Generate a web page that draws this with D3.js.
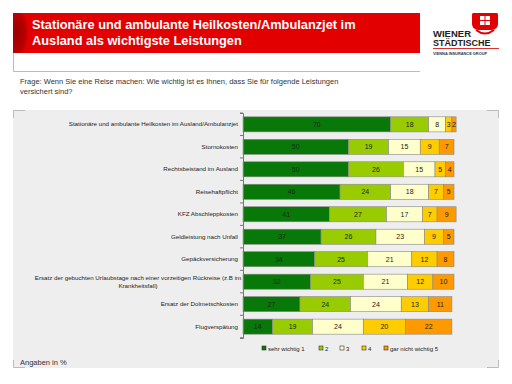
<!DOCTYPE html>
<html>
<head>
<meta charset="utf-8">
<script src="https://cdn.jsdelivr.net/npm/d3@7"></script>
<style>
  body { margin: 0; background: #fff; }
  text { font-family: Arial, "Liberation Sans", sans-serif; }
</style>
</head>
<body>
<div id="chart"></div>
<script>
var categories = [
    ["Stationäre und ambulante Heilkosten im Ausland/Ambulanzjet"],
    ["Stornokosten"],
    ["Rechtsbeistand im Ausland"],
    ["Reisehaftpflicht"],
    ["KFZ Abschleppkosten"],
    ["Geldleistung nach Unfall"],
    ["Gepäckversicherung"],
    ["Ersatz der gebuchten Urlaubstage nach einer vorzeitigen Rückreise (z.B im", "Krankheitsfall)"],
    ["Ersatz der Dolmetschkosten"],
    ["Flugverspätung"]
];
var seriesNames = ["sehr wichtig 1", "2", "3", "4", "gar nicht wichtig 5"];
var s1 = [70, 50, 50, 46, 41, 37, 34, 32, 27, 14];
var s2 = [18, 19, 26, 24, 27, 26, 25, 25, 24, 19];
var s3 = [8, 15, 15, 18, 17, 23, 21, 21, 24, 24];
var s4 = [3, 9, 5, 7, 7, 9, 12, 12, 13, 20];
var s5 = [2, 7, 4, 5, 9, 5, 8, 10, 11, 22];
var colors = ["#087808", "#99cc00", "#ffffcc", "#ffcc00", "#ff9900"];

var width = 512, height = 384;

var svg = d3.select("#chart")
    .append("svg")
    .attr("width", width)
    .attr("height", height);

// header banner
var defs = svg.append("defs");
var grad = defs.append("radialGradient")
    .attr("id", "edge").attr("cx", "0.4").attr("cy", "0.5").attr("r", "0.6");
grad.append("stop").attr("offset", "0%").attr("stop-color", "#9a0000");
grad.append("stop").attr("offset", "70%").attr("stop-color", "#b80000");
grad.append("stop").attr("offset", "100%").attr("stop-color", "#e30000");
defs.append("clipPath").attr("id", "banner")
    .append("rect").attr("x", 13).attr("y", 13).attr("width", 407).attr("height", 40);

var banner = svg.append("g").attr("clip-path", "url(#banner)");
banner.append("rect").attr("x", 13).attr("y", 13).attr("width", 407).attr("height", 40).attr("fill", "#e30000");
banner.append("ellipse").attr("cx", 18).attr("cy", 33).attr("rx", 11).attr("ry", 22).attr("fill", "url(#edge)");
svg.append("path").attr("d", "M13.5,53 V71.5 H420").attr("fill", "none").attr("stroke", "#bbb");

svg.append("text").attr("x", 32).attr("y", 29).attr("fill", "#fff")
    .style("font-size", "12.8px").style("font-weight", "bold")
    .text("Stationäre und ambulante Heilkosten/Ambulanzjet im");
svg.append("text").attr("x", 32).attr("y", 45).attr("fill", "#fff")
    .style("font-size", "12.8px").style("font-weight", "bold")
    .text("Ausland als wichtigste Leistungen");

// logo
var logo = svg.append("g");
logo.append("path").attr("d", "M473,13 H497 Q498,13 498,15 V24 Q498,29 492,30 H478 Q472,29 472,24 V15 Q472,13 473,13 Z").attr("fill", "#e30000");
logo.append("rect").attr("x", 480).attr("y", 16).attr("width", 10).attr("height", 9).attr("fill", "#fff");
logo.append("line").attr("x1", 485).attr("x2", 485).attr("y1", 16).attr("y2", 25).attr("stroke", "#e30000");
logo.append("line").attr("x1", 480).attr("x2", 490).attr("y1", 20.5).attr("y2", 20.5).attr("stroke", "#e30000");
logo.append("path").attr("d", "M476,30 Q485,37 494,30").attr("fill", "none").attr("stroke", "#e30000").attr("stroke-width", 2);
logo.append("text").attr("x", 433).attr("y", 37).style("font-size", "9.5px").style("font-weight", "bold").attr("fill", "#222").text("WIENER");
logo.append("text").attr("x", 433).attr("y", 46).style("font-size", "9px").style("font-weight", "bold").attr("fill", "#222").text("STÄDTISCHE");
logo.append("line").attr("x1", 433).attr("x2", 499).attr("y1", 48.5).attr("y2", 48.5).attr("stroke", "#c00").attr("stroke-width", 0.8);
logo.append("text").attr("x", 433).attr("y", 55).style("font-size", "3.9px").style("font-weight", "bold").attr("fill", "#333").text("VIENNA INSURANCE GROUP");

// question
svg.append("text").attr("x", 20).attr("y", 84).style("font-size", "7.5px").attr("fill", "#333")
    .text("Frage: Wenn Sie eine Reise machen: Wie wichtig ist es Ihnen, dass Sie für folgende Leistungen");
svg.append("text").attr("x", 20).attr("y", 94).style("font-size", "7.5px").attr("fill", "#333")
    .text("versichert sind?");

// chart panel
svg.append("rect").attr("x", 13).attr("y", 110).attr("width", 486).attr("height", 258).attr("fill", "#eeeeee");
svg.append("path").attr("d", "M13.5,118 V110.5 H25 M487,110.5 H498.5 V118 M13.5,360 V367.5 H25 M487,367.5 H498.5 V360")
    .attr("fill", "none").attr("stroke", "#bbb");

var rows = categories.map(function(c, i) {
    return {label: c, vals: [s1[i], s2[i], s3[i], s4[i], s5[i]]};
});

var x = d3.scaleLinear().domain([0, 100]).range([243, 454]);
var y = d3.scaleBand().domain(d3.range(rows.length)).range([113, 338]).paddingInner(0.33).paddingOuter(0.17);

var stack = d3.stack().keys(d3.range(5)).value(function(d, k) { return d.vals[k]; });
var layers = stack(rows);

var layer = svg.selectAll(".layer")
    .data(layers)
    .enter().append("g")
    .attr("class", "layer");

layer.selectAll("rect")
    .data(function(d) { return d.map(function(p, i) { return {p: p, i: i, k: d.key}; }); })
    .enter().append("rect")
    .attr("x", function(d) { return x(d.p[0]); })
    .attr("y", function(d) { return y(d.i); })
    .attr("width", function(d) { return x(d.p[1]) - x(d.p[0]); })
    .attr("height", y.bandwidth())
    .style("fill", function(d) { return colors[d.k]; })
    .attr("stroke", "#888")
    .attr("stroke-width", 0.6);

layer.selectAll("text")
    .data(function(d) { return d.map(function(p, i) { return {p: p, i: i, k: d.key}; }); })
    .enter().append("text")
    .attr("x", function(d) { return (x(d.p[0]) + x(d.p[1])) / 2; })
    .attr("y", function(d) { return y(d.i) + y.bandwidth() / 2 + 2.5; })
    .attr("text-anchor", "middle")
    .style("font-size", "7px")
    .attr("fill", function(d) { return d.k == 0 ? "#1a2a1a" : "#222"; })
    .text(function(d) { return d.p[1] - d.p[0]; });

// axis
var axis = d3.axisLeft(y).tickSize(3).tickFormat("");
var ag = svg.append("g").attr("transform", "translate(243,0)").call(axis);
ag.selectAll(".tick").remove();
ag.select(".domain").attr("stroke", "#777");
var step = y.step();
ag.selectAll(".sep")
    .data(d3.range(rows.length + 1))
    .enter().append("line")
    .attr("x1", -3).attr("x2", 0)
    .attr("y1", function(i) { return 113 + i * step; })
    .attr("y2", function(i) { return 113 + i * step; })
    .attr("stroke", "#777");

// category labels
svg.selectAll(".cat")
    .data(rows)
    .enter().append("text")
    .attr("class", "cat")
    .style("font-size", "6.2px")
    .attr("fill", "#222")
    .each(function(d, i) {
        var t = d3.select(this);
        var n = d.label.length;
        var cy = y(i) + y.bandwidth() / 2 + 2;
        t.attr("text-anchor", n > 1 ? "middle" : "end");
        d.label.forEach(function(line, j) {
            t.append("tspan")
                .attr("x", n > 1 ? 138 : 238)
                .attr("y", cy + (j - (n - 1) / 2) * 8)
                .text(line);
        });
    });

// legend
var lx = [262, 319, 340, 362, 384];
var legend = svg.selectAll(".legend")
    .data(seriesNames)
    .enter().append("g")
    .attr("class", "legend")
    .attr("transform", function(d, i) { return "translate(" + lx[i] + ",346)"; });
legend.append("rect")
    .attr("width", 4).attr("height", 4)
    .attr("fill", function(d, i) { return colors[i]; })
    .attr("stroke", "#333").attr("stroke-width", 0.6);
legend.append("text")
    .attr("x", 6).attr("y", 4.5)
    .style("font-size", "6px").attr("fill", "#222")
    .text(function(d) { return d; });

svg.append("text").attr("x", 20).attr("y", 365).style("font-size", "7.5px").attr("fill", "#333").text("Angaben in %");
</script>
</body>
</html>
